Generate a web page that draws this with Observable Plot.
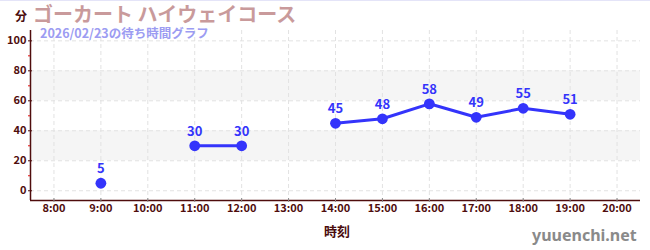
<!DOCTYPE html>
<html>
<head>
<meta charset="utf-8">
<script src="https://cdn.jsdelivr.net/npm/d3@7"></script>
<script src="https://cdn.jsdelivr.net/npm/@observablehq/plot@0.6"></script>
<style>
  html, body { margin: 0; padding: 0; background: #fff; }
  #wrap { position: relative; width: 650px; height: 250px; font-family: "Noto Sans CJK JP", "Noto Sans", sans-serif; overflow: hidden; }
  #chart { position: absolute; left: 0; top: 0; }
  .ov { position: absolute; white-space: nowrap; line-height: 1; }
  #topline { position: absolute; left: 0; top: 0; width: 650px; height: 1px; background: #e4e4f8; }
  #unit { left: 15px; top: 10px; font-size: 12px; font-weight: bold; color: #4a0c0c; }
  #title { left: 33px; top: 4px; font-size: 20px; font-weight: bold; color: #c99a9b; }
  #subtitle { left: 40px; top: 27px; font-size: 12.5px; font-weight: bold; color: #9c9cf2; }
  #xlabel { left: 324px; top: 224px; font-size: 13px; font-weight: bold; color: #4a0c0c; }
  #site { left: 532px; top: 227px; font-size: 16px; font-weight: bold; color: #8a8a8a; font-family: "Noto Sans", sans-serif; }
</style>
</head>
<body>
<div id="wrap">
  <div id="chart"></div>
  <div id="topline"></div>
  <div class="ov" id="unit">分</div>
  <div class="ov" id="title">ゴーカート ハイウェイコース</div>
  <div class="ov" id="subtitle">2026/02/23の待ち時間グラフ</div>
  <div class="ov" id="xlabel">時刻</div>
  <div class="ov" id="site">yuuenchi.net</div>
</div>
<script>
// ---- data ----
const hours = [9, 10, 11, 12, 13, 14, 15, 16, 17, 18, 19];
const waits = [5, null, 30, 30, null, 45, 48, 58, 49, 55, 51];
const xTicks = [8, 9, 10, 11, 12, 13, 14, 15, 16, 17, 18, 19, 20];
const xTickLabels = ["8:00", "9:00", "10:00", "11:00", "12:00", "13:00", "14:00", "15:00", "16:00", "17:00", "18:00", "19:00", "20:00"];
const yTicks = [0, 20, 40, 60, 80, 100];
const yMinorTicks = [10, 30, 50, 70, 90];
const bandLows = [20, 60];
const bandHighs = [40, 80];
const xDomain = [7.5, 20.5];
const yDomain = [-6.5, 106.9];

// ---- build tables ----
const data = hours.map((h, i) => ({hour: h, wait: waits[i]}));
const pts = data.filter(d => d.wait != null);
const bands = bandLows.map((lo, i) => ({lo, hi: bandHighs[i]}));
const labelOf = new Map(xTicks.map((t, i) => [t, xTickLabels[i]]));

const maroon = "#4f0d0d";
const blue = "#3434fb";
const gridStyle = {stroke: "#e2e2e2", strokeOpacity: 1, strokeDasharray: "4 3"};

const chart = Plot.plot({
  width: 650,
  height: 250,
  marginLeft: 30,
  marginRight: 10,
  marginTop: 30,
  marginBottom: 50,
  style: {fontFamily: "'Noto Sans CJK JP', 'Noto Sans', sans-serif", background: "transparent"},
  x: {domain: xDomain},
  y: {domain: yDomain},
  marks: [
    Plot.rect(bands, {y1: "lo", y2: "hi", fill: "#f5f5f5"}),
    Plot.gridX(xTicks, gridStyle),
    Plot.gridY(yTicks, gridStyle),
    Plot.ruleX([xDomain[0]], {stroke: maroon, strokeWidth: 1.5}),
    Plot.ruleY([yDomain[0]], {stroke: maroon, strokeWidth: 1.5}),
    Plot.axisY(yTicks, {tickSize: 4, dx: 2, stroke: maroon, text: null, label: null}),
    Plot.axisY(yMinorTicks, {tickSize: 2, stroke: "#e01010", text: null, label: null}),
    Plot.axisY(yTicks, {tickSize: 0, tickPadding: 4, fill: maroon, fontSize: 11, fontWeight: "bold", label: null}),
    Plot.axisX(xTicks, {tickSize: 4, dy: -2, stroke: "#8a8a8a", text: null, label: null}),
    Plot.axisX(xTicks, {
      tickSize: 0, tickPadding: 4, tickFormat: t => labelOf.get(t),
      fill: maroon, fontSize: 11, fontWeight: "bold", label: null
    }),
    Plot.line(data, {x: "hour", y: "wait", stroke: blue, strokeWidth: 3}),
    Plot.dot(pts, {x: "hour", y: "wait", r: 5.4, fill: blue}),
    Plot.text(pts, {x: "hour", y: "wait", text: d => String(d.wait), dy: -14, fill: blue, fontSize: 13, fontWeight: "bold"})
  ]
});
document.getElementById("chart").appendChild(chart);
</script>
</body>
</html>
